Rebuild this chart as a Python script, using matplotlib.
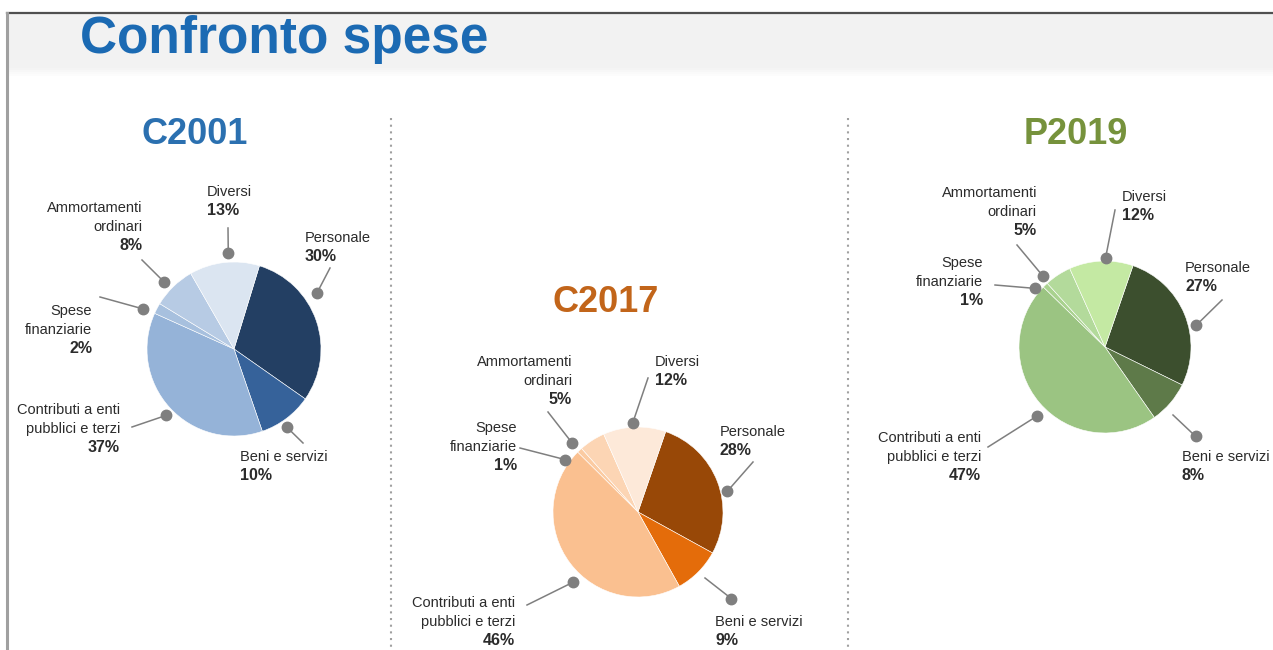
import numpy as np
import matplotlib
matplotlib.use("Agg")
import matplotlib.pyplot as plt

plt.rcParams['font.family'] = ['Liberation Sans', 'DejaVu Sans']

# data
categories = ["Personale", "Beni e servizi", "Contributi a enti\npubblici e terzi",
              "Spese\nfinanziarie", "Ammortamenti\nordinari", "Diversi"]
years = ["C2001", "C2017", "P2019"]
c2001 = [30, 10, 37, 2, 8, 13]
c2017 = [28, 9, 46, 1, 5, 12]
p2019 = [27, 8, 47, 1, 5, 12]

# styling / layout (pixels, image coordinates with y downward)
W, H = 1273, 650
colors = {
    "C2001": ["#233f63", "#36629a", "#95b3d8", "#a7c0de", "#b7cbe4", "#dbe5f1"],
    "C2017": ["#984807", "#e46c0a", "#fac090", "#fbcba2", "#fcd5b4", "#fde9d9"],
    "P2019": ["#3c4f2e", "#5e7a49", "#9bc482", "#a9d28f", "#b3da9b", "#c4e9a3"],
}
title_colors = {"C2001": "#2b70b0", "C2017": "#c2651a", "P2019": "#76923c"}
centers = {"C2001": (234, 349), "C2017": (638, 512), "P2019": (1105, 347)}
radii = {"C2001": 87, "C2017": 85, "P2019": 86}
start_angles = {"C2001": 73, "C2017": 71, "P2019": 71}
subtitle_pos = {"C2001": (195, 135), "C2017": (606, 303), "P2019": (1076, 134)}

# per label: (text dx, text dy, align, dot radius factor, dot angle nudge, line end dx, line end dy)
label_layout = {
    "C2001": [(71, 111, "left", 1.15, 15, 96, 81),
              (6, -108, "left", 1.08, -3, 69, -94),
              (-114, -61, "right", 1.09, 2, -102, -78),
              (-142, 38, "right", 1.14, 4, -134, 52),
              (-92, 141, "right", 1.11, 2, -92, 89),
              (-27, 157, "left", 1.11, -3, -6, 121)],
    "C2017": [(82, 80, "left", 1.08, -8, 115, 50),
              (77, -110, "left", 1.5, 2, 67, -66),
              (-123, -91, "right", 1.13, 10, -111, -93),
              (-121, 84, "right", 1.06, 11, -118, 64),
              (-66, 150, "right", 1.12, 11, -90, 100),
              (17, 150, "left", 1.05, 1, 10, 134)],
    "P2019": [(80, 79, "left", 1.09, -9, 117, 47),
              (77, -110, "left", 1.48, -4, 68, -68),
              (-124, -91, "right", 1.13, 5, -117, -100),
              (-122, 84, "right", 1.06, 6, -110, 62),
              (-68, 154, "right", 1.09, 8, -88, 102),
              (17, 150, "left", 1.04, -3, 10, 137)],
}
LINE_PITCH = 18.7
GRAY = "#7f7f7f"


def Y(py):
    return H - py


fig = plt.figure(figsize=(W / 100, H / 100), dpi=100)
ax = fig.add_axes([0, 0, 1, 1])

# header band with a soft fade at the bottom
ax.fill_between([7, W], Y(68), Y(13), color="#f2f2f2", lw=0, zorder=0)
for i, c in enumerate(["#f4f4f4", "#f7f7f7", "#fafafa", "#fcfcfc"]):
    ax.fill_between([7, W], Y(68 + 2 * (i + 1)), Y(68 + 2 * i), color=c, lw=0, zorder=0)
ax.plot([7, W], [Y(13), Y(13)], color="#505050", lw=1.6, zorder=1)
ax.plot([7, 7], [Y(13), 0], color="#a0a0a0", lw=2.2, zorder=1)

ax.text(80, Y(53), "Confronto spese", fontsize=37, fontweight="bold",
        color="#1b6ab3", ha="left", va="baseline", zorder=3)

# dotted separators
for x in (391, 848):
    ax.plot([x, x], [Y(118), 0], color="#a0a0a0", lw=1.5,
            linestyle=(0, (1, 2.2)), zorder=1)

series = {"C2001": c2001, "C2017": c2017, "P2019": p2019}
for year in years:
    vals = series[year]
    cx, cy = centers[year]
    r = radii[year]
    wedges, _ = ax.pie(vals, colors=colors[year], startangle=start_angles[year],
                       counterclock=False, center=(cx, Y(cy)), radius=r,
                       wedgeprops=dict(edgecolor="white", linewidth=0.4))
    sx, sy = subtitle_pos[year]
    ax.text(sx, Y(sy), year, fontsize=26, fontweight="bold", color=title_colors[year],
            ha="center", va="center")
    for w, name, v, lay in zip(wedges, categories, vals, label_layout[year]):
        tdx, tdy, align, rf, nudge, ldx, ldy = lay
        mid = np.deg2rad((w.theta1 + w.theta2) / 2 + nudge)
        dot_x = cx + rf * r * np.cos(mid)
        dot_y = Y(cy) + rf * r * np.sin(mid)
        ax.plot([dot_x, cx + ldx], [dot_y, Y(cy) + ldy], color=GRAY, lw=1.1, zorder=4)
        ax.plot(dot_x, dot_y, "o", color=GRAY, ms=7.5, mec=GRAY, zorder=5)
        lines = name.split("\n")
        for i, line in enumerate(lines):
            ax.text(cx + tdx, Y(cy) + tdy - i * LINE_PITCH, line, fontsize=10.5,
                    color="#2b2b2b", ha=align, va="center", zorder=6)
        ax.text(cx + tdx, Y(cy) + tdy - len(lines) * LINE_PITCH, f"{v}%",
                fontsize=11.5, fontweight="bold", color="#2b2b2b", ha=align,
                va="center", zorder=6)

ax.set_xlim(0, W)
ax.set_ylim(0, H)
ax.set_aspect("auto")
ax.axis("off")

fig.savefig("out.png", dpi=100, facecolor="white")
